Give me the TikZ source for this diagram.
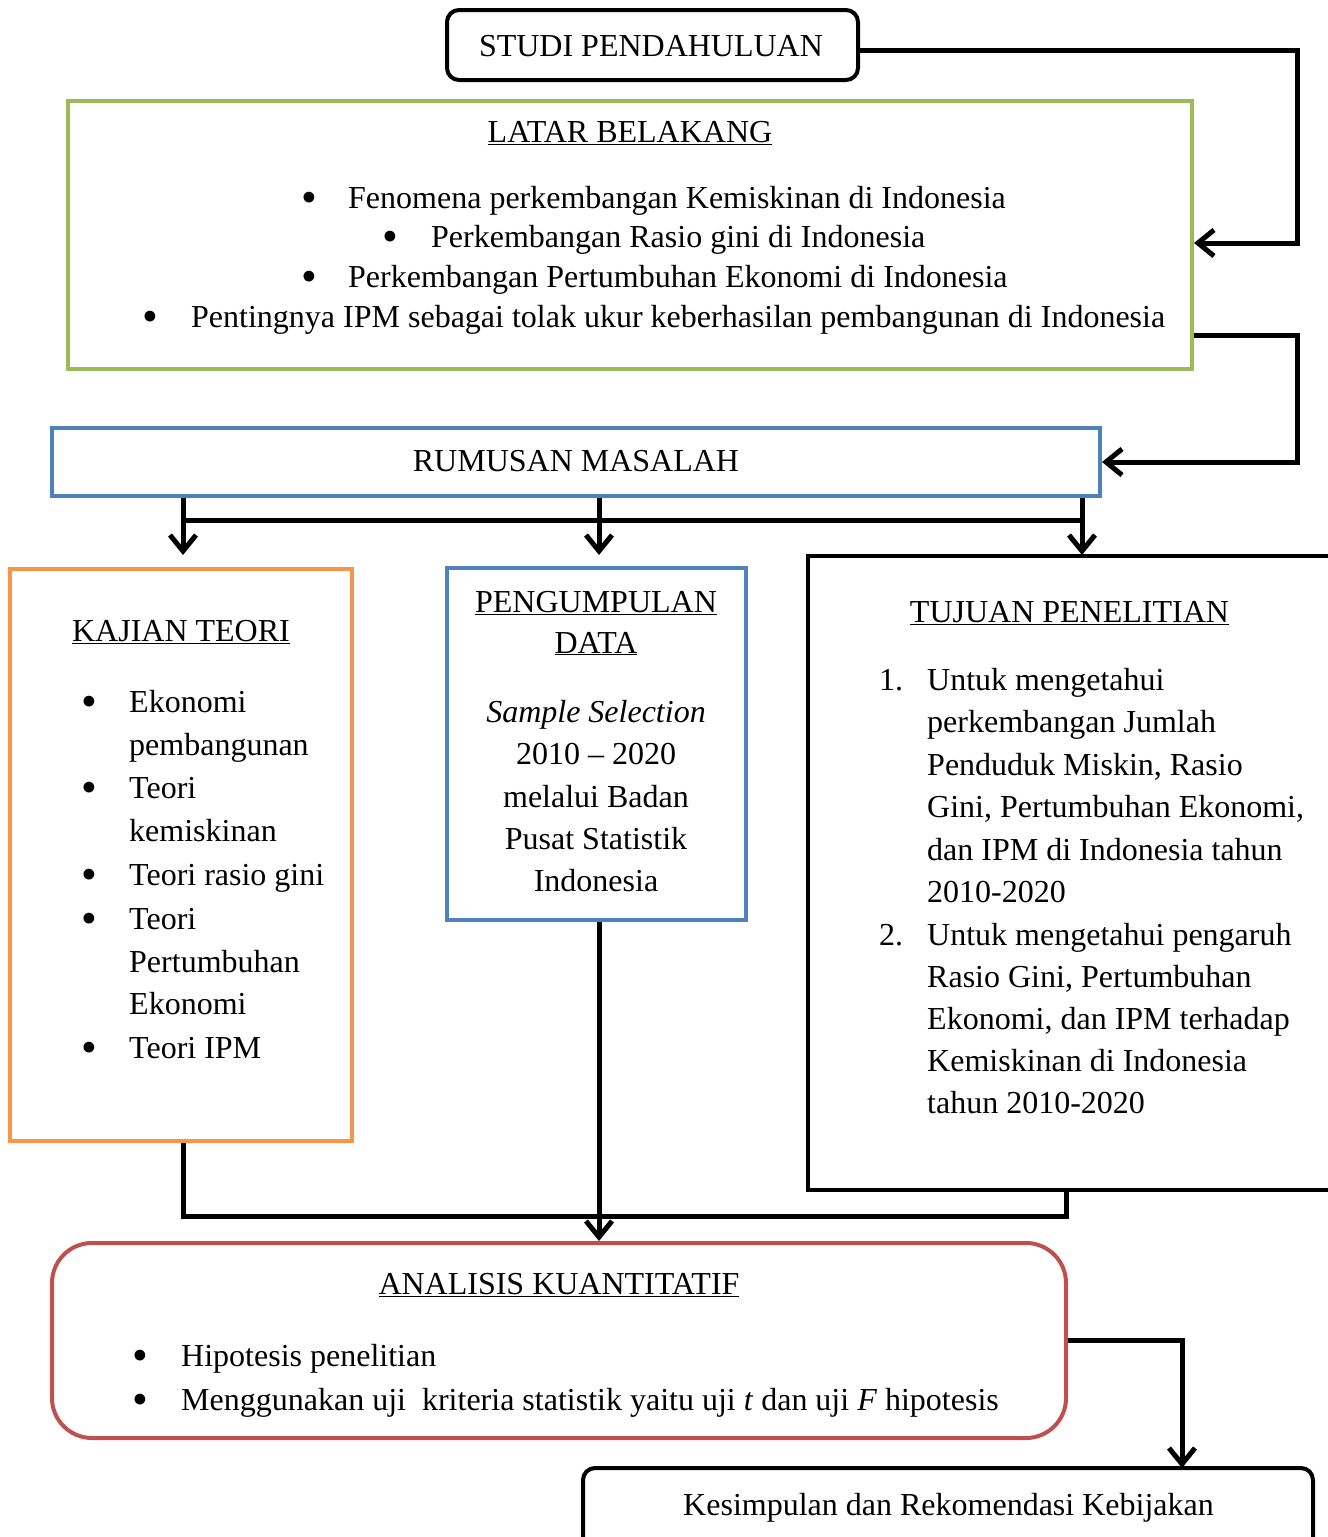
\documentclass[tikz,border=0pt]{standalone}
\usepackage{fontspec}
\setmainfont{Liberation Serif}
\usetikzlibrary{arrows.meta}
\definecolor{cgreen}{HTML}{9BBB59}
\definecolor{cblue}{HTML}{4F81BD}
\definecolor{corange}{HTML}{F79646}
\definecolor{cred}{HTML}{C0504D}
\begin{document}
\begin{tikzpicture}[x=1pt,y=-1pt,
  boxline/.style={line width=4pt, inner sep=0pt},
  txt/.style={inner sep=0pt, font=\fontsize{32}{42}\selectfont},
  ctr/.style={txt, anchor=base},
  lft/.style={txt, anchor=base west},
  bul/.style={inner sep=0pt, anchor=base, yshift=-2pt, font=\fontsize{45}{45}\selectfont},
  lnk/.style={line width=5pt, line join=miter},
  conn/.style={lnk, -{Straight Barb[length=16pt,width=26pt]}}]
\useasboundingbox (0,0) rectangle (1328,1537);
\clip (0,0) rectangle (1328,1537);

% boxes
\node[boxline, draw=black, rounded corners=12pt, minimum width=411pt, minimum height=70pt] (studi) at (652.5,45) {};
\node[boxline, draw=cgreen, minimum width=1124pt, minimum height=268pt] (latar) at (630,235) {};
\node[boxline, draw=cblue, minimum width=1048pt, minimum height=68pt] (rumusan) at (576,462) {};
\node[boxline, draw=corange, minimum width=342pt, minimum height=572pt] (kajian) at (181,855) {};
\node[boxline, draw=cblue, minimum width=299pt, minimum height=352pt] (peng) at (596.5,744) {};
\node[boxline, draw=black, minimum width=552pt, minimum height=634pt] (tujuan) at (1084,873) {};
\node[boxline, draw=cred, rounded corners=40pt, minimum width=1014pt, minimum height=195pt] (analisis) at (559,1340.5) {};
\node[boxline, draw=black, rounded corners=12pt, minimum width=730pt, minimum height=110pt] (kesimpulan) at (948,1523) {};

% texts
\node[ctr] (tStudi) at (651,56) {STUDI PENDAHULUAN};
\node[ctr] (tLatar) at (630,142) {\underline{LATAR BELAKANG}};
\node[bul] (lb1) at (309,210) {\textbullet};
\node[lft] (lt1) at (348,208) {Fenomena perkembangan Kemiskinan di Indonesia};
\node[bul] (lb2) at (390,249) {\textbullet};
\node[lft] (lt2) at (431,247) {Perkembangan Rasio gini di Indonesia};
\node[bul] (lb3) at (309,289) {\textbullet};
\node[lft] (lt3) at (348,287) {Perkembangan Pertumbuhan Ekonomi di Indonesia};
\node[bul] (lb4) at (150,329) {\textbullet};
\node[lft] (lt4) at (191,327) {Pentingnya IPM sebagai tolak ukur keberhasilan pembangunan di Indonesia};

\node[ctr] (tRumusan) at (576,471) {RUMUSAN MASALAH};

\node[ctr] (tKajian) at (181,641) {\underline{KAJIAN TEORI}};
\node[bul] (kb1) at (89,714) {\textbullet};
\node[lft] (kt1) at (129,712) {Ekonomi};
\node[lft] (kt1b) at (129,755) {pembangunan};
\node[bul] (kb2) at (89,800) {\textbullet};
\node[lft] (kt2) at (129,798) {Teori};
\node[lft] (kt2b) at (129,841) {kemiskinan};
\node[bul] (kb3) at (89,887) {\textbullet};
\node[lft] (kt3) at (129,885) {Teori rasio gini};
\node[bul] (kb4) at (89,931) {\textbullet};
\node[lft] (kt4) at (129,929) {Teori};
\node[lft] (kt4b) at (129,972) {Pertumbuhan};
\node[lft] (kt4c) at (129,1014) {Ekonomi};
\node[bul] (kb5) at (89,1060) {\textbullet};
\node[lft] (kt5) at (129,1058) {Teori IPM};

\node[ctr] (tPeng1) at (596,612) {\underline{PENGUMPULAN}};
\node[ctr] (tPeng2) at (596,653) {\underline{DATA}};
\node[ctr] (p1) at (596,722) {\textit{Sample Selection}};
\node[ctr] (p2) at (596,764) {2010 -- 2020};
\node[ctr] (p3) at (596,807) {melalui Badan};
\node[ctr] (p4) at (596,849) {Pusat Statistik};
\node[ctr] (p5) at (596,891) {Indonesia};

\node[ctr] (tTujuan) at (1069.5,622) {\underline{TUJUAN PENELITIAN}};
\node[lft] (n1) at (879,690) {1.};
\node[lft] (u1) at (927,690) {Untuk mengetahui};
\node[lft] (u2) at (927,732) {perkembangan Jumlah};
\node[lft] (u3) at (927,775) {Penduduk Miskin, Rasio};
\node[lft] (u4) at (927,817) {Gini, Pertumbuhan Ekonomi,};
\node[lft] (u5) at (927,860) {dan IPM di Indonesia tahun};
\node[lft] (u6) at (927,902) {2010-2020};
\node[lft] (n2) at (879,945) {2.};
\node[lft] (v1) at (927,945) {Untuk mengetahui pengaruh};
\node[lft] (v2) at (927,987) {Rasio Gini, Pertumbuhan};
\node[lft] (v3) at (927,1029) {Ekonomi, dan IPM terhadap};
\node[lft] (v4) at (927,1071) {Kemiskinan di Indonesia};
\node[lft] (v5) at (927,1113) {tahun 2010-2020};

\node[ctr] (tAnalisis) at (559,1294) {\underline{ANALISIS KUANTITATIF}};
\node[bul] (ab1) at (140,1368) {\textbullet};
\node[lft] (at1) at (181,1366) {Hipotesis penelitian};
\node[bul] (ab2) at (140,1412) {\textbullet};
\node[lft] (at2) at (181,1410) {Menggunakan uji\ \ kriteria statistik yaitu uji \textit{t} dan uji \textit{F} hipotesis};

\node[ctr] (tKes) at (948.5,1515) {Kesimpulan dan Rekomendasi Kebijakan};

% connector coordinates
\coordinate (c1) at (1297,243);
\coordinate (c2) at (1297,462);
\coordinate (k1) at (183,555);
\coordinate (k2) at (599,555);
\coordinate (k3) at (1082,555);
\coordinate (h1) at (183,520);
\coordinate (h2) at (1082,520);
\coordinate (c3) at (1066,1216);
\coordinate (c4) at (1182,1468);

% connectors
\draw[conn] ([yshift=-5pt]studi.east) -| (c1) -- (c1 -| latar.east);
\draw[conn] ([yshift=-100pt]latar.east) -| (c2) -- (rumusan.east);
\draw[conn] (k1 |- rumusan.south) -- (k1);
\draw[conn] (k2 |- rumusan.south) -- (k2);
\draw[conn] (k3 |- rumusan.south) -- (k3);
\draw[lnk] (h1) -- (h2);
\draw[conn] (k2 |- peng.south) -- (k2 |- analisis.north);
\draw[lnk] (k1 |- kajian.south) |- (c3) -- (c3 |- tujuan.south);
\draw[conn] (analisis.east) -| (c4);
\end{tikzpicture}
\end{document}
